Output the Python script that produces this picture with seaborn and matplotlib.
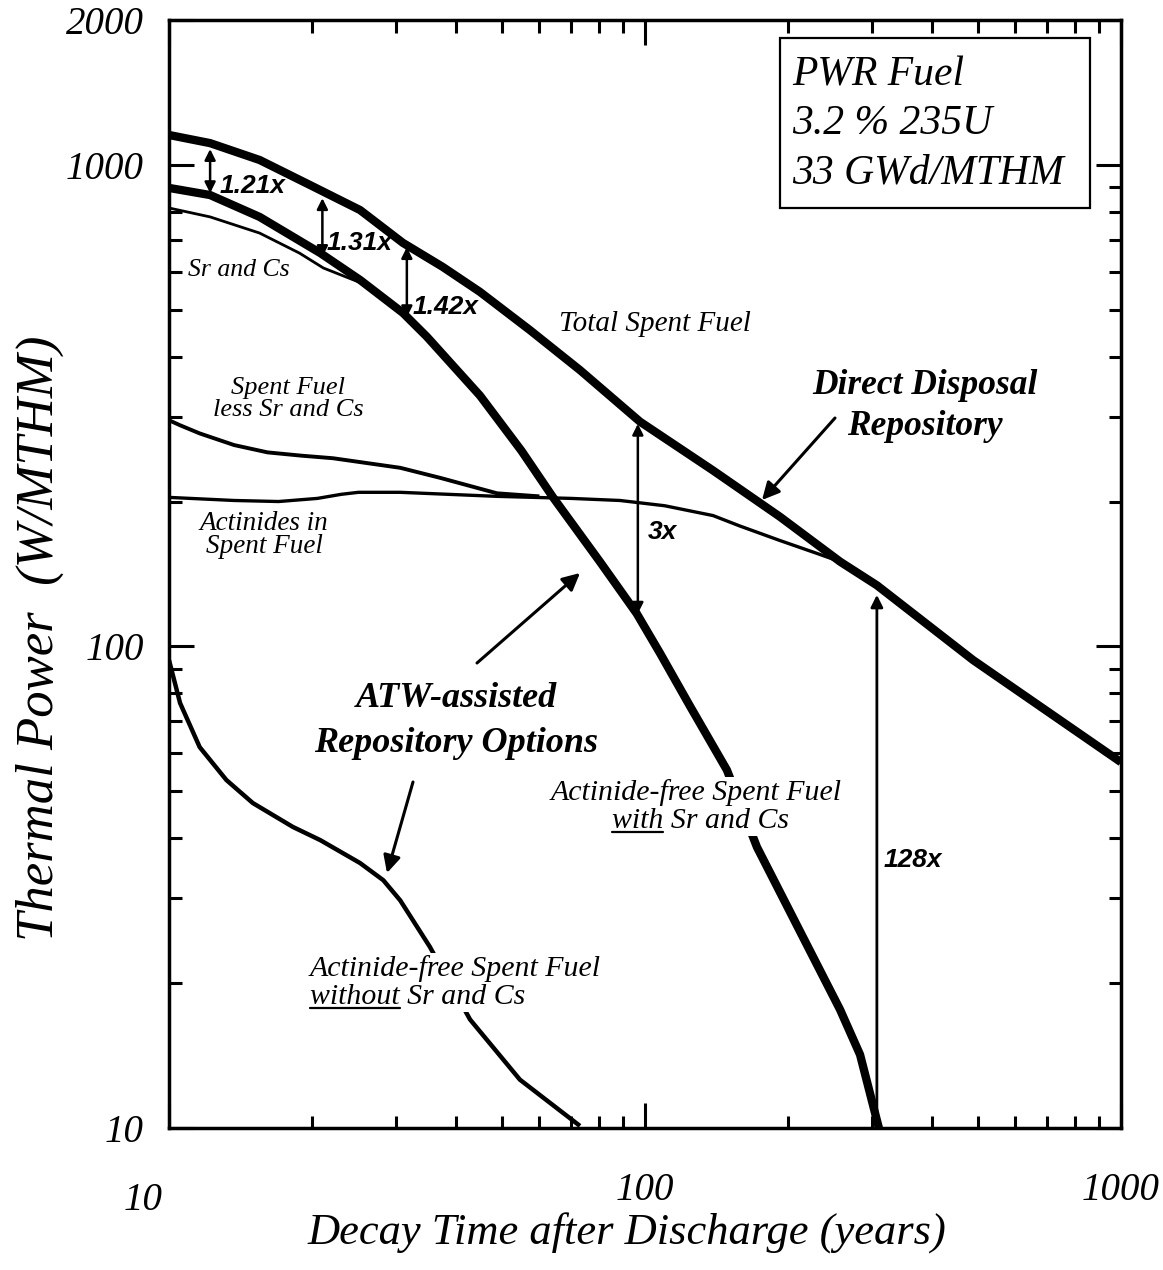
import matplotlib
matplotlib.use("Agg")
import matplotlib.pyplot as plt
import matplotlib.transforms as mtransforms
import seaborn as sns
import pandas as pd
from matplotlib.ticker import LogLocator, NullFormatter, FixedLocator, FixedFormatter
from matplotlib.patches import Rectangle
from matplotlib.lines import Line2D

# ---------------- data ----------------
total_years = [10, 12.2, 15.5, 19.8, 25.2, 31.0, 37.6, 45.0, 57.3, 73.0, 97.6, 139, 192, 257, 307, 489, 1000]
total_power = [1154, 1110, 1024, 908, 806, 689, 614, 545, 454, 375, 293, 232, 186, 150, 134, 93.7, 57.5]

with_srcs_years = [10, 12.2, 15.5, 20.8, 25.2, 31.0, 34.8, 45.0, 55.0, 64.1, 80.4, 96.1, 107.5, 124.3, 148.6,
                   171.9, 211.7, 257, 283, 310]
with_srcs_power = [896, 866, 780, 656, 577, 493, 440, 332, 255, 204, 150, 117, 96.9, 75.2, 55.4,
                   38.3, 25.6, 17.6, 14.2, 10.0]

sr_cs_years = [10, 12.2, 15.5, 18.8, 21.1, 25.2, 31.0]
sr_cs_power = [814, 780, 722, 656, 611, 570, 487]

less_srcs_years = [10, 10.55, 11.6, 13.7, 16.1, 19.0, 22.1, 30.6, 37.1, 48.9, 60.0]
less_srcs_power = [295, 288, 277, 262, 253, 249, 246, 235, 224, 208, 205]

actinide_years = [10, 13.7, 17.0, 20.5, 23.0, 25.0, 30.6, 48.9, 70, 88.6, 110, 139, 158, 192, 230, 257, 307,
                  489, 1000]
actinide_power = [204, 201, 200, 203, 207, 209, 209, 205, 203, 201, 196, 187, 178, 166, 156, 150, 134,
                  93.7, 57.5]

without_srcs_years = [10, 10.55, 11.6, 13.2, 15.0, 18.2, 20.8, 25.2, 28.2, 30.6, 35.3, 42.9, 54.6, 73.0]
without_srcs_power = [93.7, 76.3, 61.8, 52.8, 47.3, 42.2, 39.6, 35.5, 32.7, 29.7, 23.8, 16.8, 12.6, 10.1]

ratio_years = [12.2, 21.0, 31.6, 96.6]
ratio_top = [1079, 853, 675, 290]
ratio_bottom = [874, 644, 483, 117]
ratio_labels = ["1.21x", "1.31x", "1.42x", "3x"]

big_ratio_year = 307
big_ratio_top = 128
big_ratio_bottom = 10
big_ratio_label = "128x"

x_ticks = [10, 100, 1000]
x_ticklabels = ["10", "100", "1000"]
y_ticks = [10, 100, 1000, 2000]
y_ticklabels = ["10", "100", "1000", "2000"]

# ---------------- style ----------------
sns.set_theme(style="ticks")
plt.rcParams['font.family'] = ['Liberation Serif', 'DejaVu Serif']
plt.rcParams['axes.linewidth'] = 2.5
plt.rcParams['axes.edgecolor'] = 'black'

W, H = 1163, 1270
fig = plt.figure(figsize=(W / 100, H / 100), dpi=100)
fig.patch.set_facecolor('white')
L, R, T, B = 169, 1121, 20, 1128
ax = fig.add_axes([L / W, 1 - B / H, (R - L) / W, (B - T) / H])
ax.set_facecolor('white')

series = [
    (total_years, total_power, 6.0),
    (with_srcs_years, with_srcs_power, 6.0),
    (sr_cs_years, sr_cs_power, 2.0),
    (less_srcs_years, less_srcs_power, 2.8),
    (actinide_years, actinide_power, 2.4),
    (without_srcs_years, without_srcs_power, 3.2),
]
for t, p, lw in series:
    df = pd.DataFrame({"years": t, "power": p})
    sns.lineplot(data=df, x="years", y="power", ax=ax, color="black",
                 linewidth=lw, estimator=None, sort=False, legend=False,
                 solid_joinstyle='round', solid_capstyle='butt', zorder=2)

ax.set_xscale('log')
ax.set_yscale('log')
ax.set_xlim(10, 1000)
ax.set_ylim(10, 2000)

ax.xaxis.set_major_locator(FixedLocator(x_ticks))
ax.xaxis.set_major_formatter(FixedFormatter(x_ticklabels))
ax.yaxis.set_major_locator(FixedLocator(y_ticks))
ax.yaxis.set_major_formatter(FixedFormatter(y_ticklabels))
ax.xaxis.set_minor_locator(LogLocator(base=10, subs=range(2, 10)))
ax.yaxis.set_minor_locator(LogLocator(base=10, subs=range(2, 10)))
ax.xaxis.set_minor_formatter(NullFormatter())
ax.yaxis.set_minor_formatter(NullFormatter())

ax.tick_params(which='both', direction='in', top=True, right=True, color='black')
ax.tick_params(which='major', length=18, width=2.2)
ax.tick_params(which='minor', length=9, width=2.2)
ax.tick_params(axis='x', which='major', pad=32, labelsize=28)
ax.tick_params(axis='y', which='major', pad=18, labelsize=28)
for lbl in ax.get_xticklabels() + ax.get_yticklabels():
    lbl.set_fontstyle('italic')
    lbl.set_color('black')
for s in ax.spines.values():
    s.set_linewidth(2.5)
    s.set_color('black')


def fx(px):
    return (px - L) / (R - L)


def fy(py):
    return (B - py) / (B - T)


ax.set_xlabel('Decay Time after Discharge (years)', fontsize=32, style='italic', color='black')
ax.set_ylabel('Thermal Power  (W/MTHM)', fontsize=38, style='italic', color='black')
ax.xaxis.label.set_va('center')
ax.yaxis.label.set_va('center')
ax.xaxis.set_label_coords(fx(627), fy(1233))
ax.yaxis.set_label_coords(fx(40), fy(638))

serif_it = dict(family=['Liberation Serif'], style='italic', color='black')
bold_it = dict(family=['Liberation Serif'], style='italic', weight='bold', color='black')
sans_b = dict(family=['Liberation Sans'], style='italic', weight='bold', color='black')

# curve labels
ax.text(fx(655), fy(324), 'Total Spent Fuel', transform=ax.transAxes, ha='center', va='center', fontsize=21, **serif_it)
ax.text(fx(188), fy(270), 'Sr and Cs', transform=ax.transAxes, ha='left', va='center', fontsize=18.5, **serif_it)
ax.text(fx(288), fy(399), 'Spent Fuel\nless Sr and Cs', transform=ax.transAxes, ha='center', va='center',
        fontsize=19, linespacing=0.95, **serif_it)
ax.text(fx(264), fy(535), 'Actinides in\nSpent Fuel', transform=ax.transAxes, ha='center', va='center',
        fontsize=19.5, linespacing=0.9, **serif_it)

wbox = dict(facecolor='white', edgecolor='none', pad=1.5)
FS_AF = 21.5
t1 = ax.text(fx(696), fy(793), 'Actinide-free Spent Fuel', transform=ax.transAxes, ha='center', va='center',
             fontsize=FS_AF, bbox=wbox, zorder=4, **serif_it)
t2 = ax.text(fx(700), fy(821), 'with Sr and Cs', transform=ax.transAxes, ha='center', va='center',
             fontsize=FS_AF, bbox=wbox, zorder=4, **serif_it)
t3 = ax.text(fx(310), fy(969), 'Actinide-free Spent Fuel', transform=ax.transAxes, ha='left', va='center',
             fontsize=FS_AF, bbox=wbox, zorder=4, **serif_it)
t4 = ax.text(fx(310), fy(997), 'without Sr and Cs', transform=ax.transAxes, ha='left', va='center',
             fontsize=FS_AF, bbox=wbox, zorder=4, **serif_it)

ax.text(fx(925), fy(406), 'Direct Disposal\nRepository', transform=ax.transAxes, ha='center', va='center',
        fontsize=25.5, linespacing=1.3, **bold_it)
ax.text(fx(456), fy(721), 'ATW-assisted\nRepository Options', transform=ax.transAxes, ha='center', va='center',
        fontsize=26, linespacing=1.45, **bold_it)

# info box
ax.text(fx(792), fy(56), 'PWR Fuel\n3.2 % 235U\n33 GWd/MTHM', transform=ax.transAxes, ha='left', va='top',
        fontsize=30, linespacing=1.35, **serif_it)
ax.add_patch(Rectangle((fx(780), fy(208)), fx(1090) - fx(780), fy(38) - fy(208), transform=ax.transAxes,
                       fill=False, lw=1.6, ec='black', zorder=5))

# ratio arrows
ratio_label_pos = [(220, 186), (327, 243), (413, 307), (648, 532)]
for yr, top, bot, lab, (lx, ly) in zip(ratio_years, ratio_top, ratio_bottom, ratio_labels, ratio_label_pos):
    ax.annotate('', xy=(yr, top), xytext=(yr, bot),
                arrowprops=dict(arrowstyle='<|-|>', color='black', lw=1.8, mutation_scale=16,
                                shrinkA=0, shrinkB=0), zorder=3)
    ax.text(fx(lx), fy(ly), lab, transform=ax.transAxes, ha='left', va='center', fontsize=19, **sans_b)

ax.annotate('', xy=(big_ratio_year, big_ratio_top), xytext=(big_ratio_year, big_ratio_bottom),
            arrowprops=dict(arrowstyle='-|>', color='black', lw=2.0, mutation_scale=18, shrinkA=0, shrinkB=0),
            zorder=3)
ax.text(fx(884), fy(860), big_ratio_label, transform=ax.transAxes, ha='left', va='center', fontsize=19, **sans_b)

# pointer arrows
pointer_arrows = [((835, 418), (762, 500)), ((477, 663), (580, 573)), ((413, 782), (387, 873))]
for (sx, sy), (ex, ey) in pointer_arrows:
    ax.annotate('', xy=(fx(ex), fy(ey)), xytext=(fx(sx), fy(sy)), xycoords='axes fraction',
                textcoords='axes fraction',
                arrowprops=dict(arrowstyle='-|>', color='black', lw=2.2, mutation_scale=26,
                                shrinkA=0, shrinkB=0))

# underlines for "with" / "without"
fig.canvas.draw()
rend = fig.canvas.get_renderer()
inv = ax.transAxes.inverted()
for txt_obj, word in [(t2, 'with'), (t4, 'without')]:
    bb = txt_obj.get_window_extent(renderer=rend)
    tmp = ax.text(0, 0, word, transform=ax.transAxes, fontsize=FS_AF, **serif_it)
    wb = tmp.get_window_extent(renderer=rend)
    tmp.remove()
    x0 = bb.x0
    x1 = bb.x0 + wb.width
    yline = bb.y0 + 2
    (ax0, ay0) = inv.transform((x0, yline))
    (ax1, _) = inv.transform((x1, yline))
    ax.add_line(Line2D([ax0, ax1], [ay0, ay0], transform=ax.transAxes, color='black', lw=1.6, zorder=5))

# the "10" on the x axis sits a bit left and lower in the original
first = ax.xaxis.get_major_ticks()[0].label1
first.set_transform(first.get_transform() + mtransforms.ScaledTranslation(-0.26, -0.10, fig.dpi_scale_trans))

fig.savefig('out.png', dpi=100, facecolor='white')
